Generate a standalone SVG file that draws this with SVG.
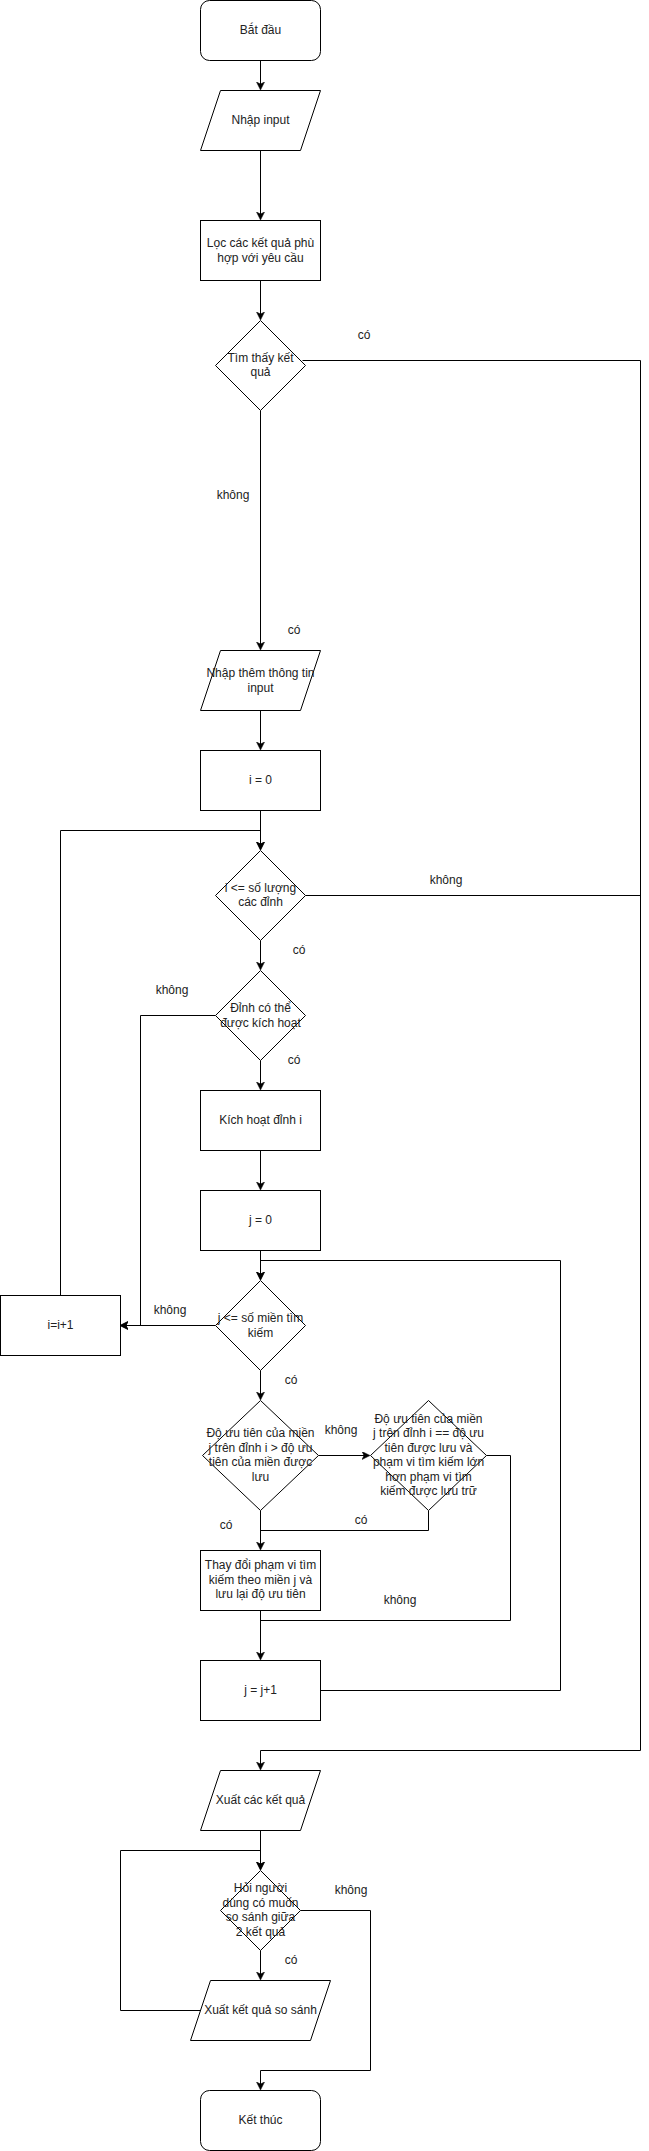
<svg xmlns="http://www.w3.org/2000/svg" width="649" height="2151" viewBox="0 0 649 2151">
<style>
.s{fill:#fff;stroke:#000;stroke-width:1}
.t{font-family:"Liberation Sans",Arial,sans-serif;font-size:12px;fill:#222;text-anchor:middle;dominant-baseline:central}
.e{fill:none;stroke:#000;stroke-width:1}
.a{marker-end:url(#arr)}
</style>
<defs>
<marker id="arr" markerWidth="10" markerHeight="10" refX="7" refY="4" orient="auto" markerUnits="userSpaceOnUse">
<path d="M0,0 L8,4 L0,8 L2,4 z" fill="#000" stroke="#000" stroke-width="0.5"/>
</marker>
</defs>
<rect width="649" height="2151" fill="#fff"/>
<g id="connectors">
<path class="e a" d="M260.5,60.5 V89"/>
<path class="e a" d="M260.5,150.5 V219"/>
<path class="e a" d="M260.5,280.5 V319"/>
<path class="e a" d="M260.5,410.5 V649"/>
<path class="e a" d="M260.5,710.5 V749"/>
<path class="e a" d="M260.5,810.5 V849"/>
<path class="e a" d="M60.5,1295.5 V830.5 H260.5 V849"/>
<path class="e" d="M305.5,895.5 H640.5"/>
<path class="e a" d="M260.5,940.5 V969"/>
<path class="e a" d="M215.5,1015.5 H140.5 V1325.5 H121"/>
<path class="e a" d="M260.5,1060.5 V1089"/>
<path class="e a" d="M260.5,1150.5 V1189"/>
<path class="e a" d="M260.5,1250.5 V1279"/>
<path class="e a" d="M215.5,1325.5 H121"/>
<path class="e a" d="M320.5,1690.5 H560.5 V1260.5 H260.5 V1279"/>
<path class="e a" d="M260.5,1370.5 V1399"/>
<path class="e a" d="M318.5,1455.5 H369"/>
<path class="e a" d="M260.5,1510.5 V1549"/>
<path class="e" d="M428.5,1510.5 V1530.5 H260.5"/>
<path class="e" d="M486.5,1455.5 H510.5 V1620.5 H260.5"/>
<path class="e a" d="M260.5,1610.5 V1659"/>
<path class="e a" d="M302.5,360.5 H640.5 V1750.5 H260.5 V1769"/>
<path class="e a" d="M260.5,1830.5 V1869"/>
<path class="e a" d="M200.5,2010.5 H120.5 V1850.5 H260.5 V1869"/>
<path class="e a" d="M260.5,1950.5 V1979"/>
<path class="e a" d="M300.5,1910.5 H370.5 V2070.5 H260.5 V2089"/>
</g>
<g id="labels">
<text class="t" x="364" y="335">có</text>
<text class="t" x="233" y="495">không</text>
<text class="t" x="294" y="630">có</text>
<text class="t" x="446" y="880">không</text>
<text class="t" x="299" y="950">có</text>
<text class="t" x="172" y="990">không</text>
<text class="t" x="294" y="1060">có</text>
<text class="t" x="170" y="1310">không</text>
<text class="t" x="291" y="1380">có</text>
<text class="t" x="341" y="1430">không</text>
<text class="t" x="226" y="1525">có</text>
<text class="t" x="361" y="1520">có</text>
<text class="t" x="400" y="1600">không</text>
<text class="t" x="351" y="1890">không</text>
<text class="t" x="291" y="1960">có</text>
</g>
<g id="start">
<rect class="s" x="200.5" y="0.5" width="120" height="60" rx="9"/>
<text class="t" x="260.5" y="30">Bắt đầu</text>
</g>
<g id="input">
<path class="s" d="M220.5,90.5 H320.5 L300.5,150.5 H200.5 Z"/>
<text class="t" x="260.5" y="120">Nhập input</text>
</g>
<g id="filter">
<rect class="s" x="200.5" y="220.5" width="120" height="60"/>
<text class="t" x="260.5" y="243">Lọc các kết quả phù</text>
<text class="t" x="260.5" y="258">hợp với yêu cầu</text>
</g>
<g id="found">
<path class="s" d="M260.5,320.5 L305.5,365.5 L260.5,410.5 L215.5,365.5 Z"/>
<text class="t" x="260.5" y="358">Tìm thấy kết</text>
<text class="t" x="260.5" y="372">quả</text>
</g>
<g id="moreinput">
<path class="s" d="M220.5,650.5 H320.5 L300.5,710.5 H200.5 Z"/>
<text class="t" x="260.5" y="673">Nhập thêm thông tin</text>
<text class="t" x="260.5" y="688">input</text>
</g>
<g id="i0">
<rect class="s" x="200.5" y="750.5" width="120" height="60"/>
<text class="t" x="260.5" y="780">i = 0</text>
</g>
<g id="icond">
<path class="s" d="M260.5,850.5 L305.5,895.5 L260.5,940.5 L215.5,895.5 Z"/>
<text class="t" x="260.5" y="888">i &lt;= số lượng</text>
<text class="t" x="260.5" y="902">các đỉnh</text>
</g>
<g id="activatable">
<path class="s" d="M260.5,970.5 L305.5,1015.5 L260.5,1060.5 L215.5,1015.5 Z"/>
<text class="t" x="260.5" y="1008">Đỉnh có thể</text>
<text class="t" x="260.5" y="1023">được kích hoạt</text>
</g>
<g id="activate">
<rect class="s" x="200.5" y="1090.5" width="120" height="60"/>
<text class="t" x="260.5" y="1120">Kích hoạt đỉnh i</text>
</g>
<g id="j0">
<rect class="s" x="200.5" y="1190.5" width="120" height="60"/>
<text class="t" x="260.5" y="1220">j = 0</text>
</g>
<g id="jcond">
<path class="s" d="M260.5,1280.5 L305.5,1325.5 L260.5,1370.5 L215.5,1325.5 Z"/>
<text class="t" x="260.5" y="1318">j &lt;= số miền tìm</text>
<text class="t" x="260.5" y="1333">kiếm</text>
</g>
<g id="iinc">
<rect class="s" x="0.5" y="1295.5" width="120" height="60"/>
<text class="t" x="60.5" y="1325">i=i+1</text>
</g>
<g id="prio-gt">
<path class="s" d="M260.5,1400.5 L318.5,1455.5 L260.5,1510.5 L202.5,1455.5 Z"/>
<text class="t" x="260.5" y="1433">Độ ưu tiên của miền</text>
<text class="t" x="260.5" y="1448">j trên đỉnh i &gt; độ ưu</text>
<text class="t" x="260.5" y="1462">tiên của miền được</text>
<text class="t" x="260.5" y="1477">lưu</text>
</g>
<g id="prio-eq">
<path class="s" d="M428.5,1400.5 L486.5,1455.5 L428.5,1510.5 L370.5,1455.5 Z"/>
<text class="t" x="428.5" y="1419">Độ ưu tiên của miền</text>
<text class="t" x="428.5" y="1433">j trên đỉnh i == độ ưu</text>
<text class="t" x="428.5" y="1448">tiên được lưu và</text>
<text class="t" x="428.5" y="1462">phạm vi tìm kiếm lớn</text>
<text class="t" x="428.5" y="1477">hơn phạm vi tìm</text>
<text class="t" x="428.5" y="1491">kiếm được lưu trữ</text>
</g>
<g id="update">
<rect class="s" x="200.5" y="1550.5" width="120" height="60"/>
<text class="t" x="260.5" y="1565">Thay đổi phạm vi tìm</text>
<text class="t" x="260.5" y="1580">kiếm theo miền j và</text>
<text class="t" x="260.5" y="1594">lưu lại độ ưu tiên</text>
</g>
<g id="jinc">
<rect class="s" x="200.5" y="1660.5" width="120" height="60"/>
<text class="t" x="260.5" y="1690">j = j+1</text>
</g>
<g id="output">
<path class="s" d="M220.5,1770.5 H320.5 L300.5,1830.5 H200.5 Z"/>
<text class="t" x="260.5" y="1800">Xuất các kết quả</text>
</g>
<g id="ask">
<path class="s" d="M260.5,1870.5 L300.5,1910.5 L260.5,1950.5 L220.5,1910.5 Z"/>
<text class="t" x="260.5" y="1888">Hỏi người</text>
<text class="t" x="260.5" y="1903">dùng có muốn</text>
<text class="t" x="260.5" y="1917">so sánh giữa</text>
<text class="t" x="260.5" y="1932">2 kết quả</text>
</g>
<g id="compare">
<path class="s" d="M210.5,1980.5 H330.5 L310.5,2040.5 H190.5 Z"/>
<text class="t" x="260.5" y="2010">Xuất kết quả so sánh</text>
</g>
<g id="end">
<rect class="s" x="200.5" y="2090.5" width="120" height="60" rx="9"/>
<text class="t" x="260.5" y="2120">Kết thúc</text>
</g>
</svg>
